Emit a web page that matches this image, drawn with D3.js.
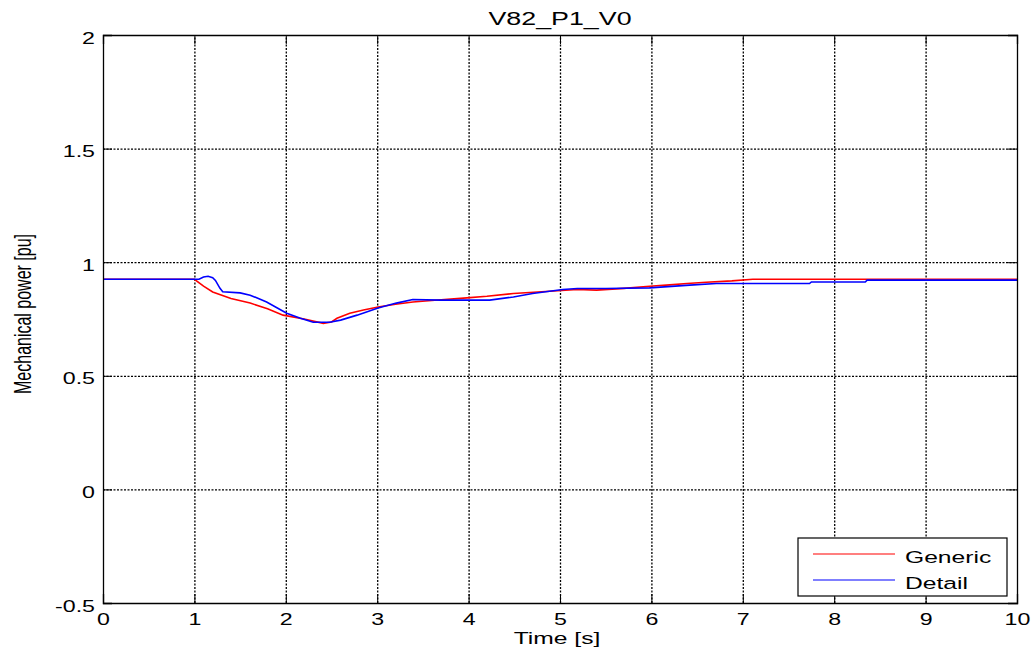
<!DOCTYPE html>
<html lang="en">
<head>
    <meta charset="UTF-8">
    <title>V82_P1_V0</title>
    <script src="https://d3js.org/d3.v7.min.js"></script>
    <style>
        body {
            margin: 0;
            padding: 0;
            background-color: #ffffff;
        }

        svg text {
            font-family: 'Liberation Sans', Arial, sans-serif;
            fill: #000;
        }
    </style>
</head>
<body>
    <div id="chart"></div>

    <script type="text/javascript">
        // Generic model
        var genericTime = [0, 1, 1.1, 1.2, 1.4, 1.61, 1.8, 1.97, 2.2, 2.41, 2.5, 2.56, 2.7, 2.85, 3.01, 3.2, 3.39, 3.7, 3.98, 4.2, 4.49, 4.8, 5.19, 5.4, 5.7, 5.98, 6.2, 6.39, 6.6, 6.88, 7.11, 8, 9, 10];
        var genericPower = [0.925, 0.925, 0.895, 0.869, 0.84, 0.82, 0.795, 0.767, 0.75, 0.731, 0.737, 0.753, 0.775, 0.79, 0.803, 0.815, 0.825, 0.835, 0.843, 0.85, 0.862, 0.87, 0.88, 0.877, 0.885, 0.894, 0.9, 0.906, 0.912, 0.918, 0.925, 0.925, 0.925, 0.925];

        // Detail model
        var detailTime = [0, 1, 1.05, 1.1, 1.15, 1.2, 1.23, 1.28, 1.31, 1.5, 1.61, 1.79, 2.01, 2.16, 2.3, 2.48, 2.6, 2.78, 3.01, 3.21, 3.39, 3.69, 4.23, 4.49, 4.7, 5.03, 5.19, 5.5, 5.98, 6.42, 6.71, 7.73, 7.75, 8.34, 8.36, 10];
        var detailPower = [0.925, 0.925, 0.925, 0.935, 0.938, 0.932, 0.92, 0.885, 0.87, 0.865, 0.855, 0.825, 0.775, 0.753, 0.736, 0.736, 0.745, 0.767, 0.798, 0.82, 0.836, 0.833, 0.833, 0.847, 0.862, 0.88, 0.884, 0.884, 0.887, 0.899, 0.906, 0.906, 0.913, 0.913, 0.921, 0.921];

        var xTicks = [0, 1, 2, 3, 4, 5, 6, 7, 8, 9, 10];
        var yTicks = [-0.5, 0, 0.5, 1, 1.5, 2];
        var yTickLabels = ["-0.5", "0", "0.5", "1", "1.5", "2"];

        var seriesNames = ["Generic", "Detail"];
        var seriesColors = ["#ff0000", "#0000ff"];

        var W = 1034, H = 658;
        var margin = { top: 35, right: 17, bottom: 55, left: 103 };
        var width = W - margin.left - margin.right;
        var height = H - margin.top - margin.bottom;
        var stretch = 1.45; // the figure is wider than its fonts

        var svg = d3.select("#chart")
            .append("svg")
            .attr("width", W)
            .attr("height", H);

        var g = svg.append("g")
            .attr("transform", "translate(" + margin.left + "," + margin.top + ")");

        var x = d3.scaleLinear().domain([0, 10]).range([0, width]);
        var y = d3.scaleLinear().domain([-0.5, 2]).range([height, 0]);

        // grid
        g.append("g")
            .attr("class", "grid")
            .attr("transform", "translate(0," + height + ")")
            .call(d3.axisBottom(x).tickValues(xTicks.slice(1, -1)).tickSize(-height).tickFormat(""))
            .call(function (s) { s.select(".domain").remove(); });

        g.append("g")
            .attr("class", "grid")
            .call(d3.axisLeft(y).tickValues(yTicks.slice(1, -1)).tickSize(-width).tickFormat(""))
            .call(function (s) { s.select(".domain").remove(); });

        g.selectAll(".grid line")
            .attr("stroke", "#000")
            .attr("stroke-width", 1.3)
            .attr("stroke-dasharray", "2,1.5");

        // lines
        var line = d3.line()
            .x(function (d) { return x(d[0]); })
            .y(function (d) { return y(d[1]); });

        var genericData = d3.zip(genericTime, genericPower);
        var detailData = d3.zip(detailTime, detailPower);

        g.append("path")
            .datum(genericData)
            .attr("fill", "none")
            .attr("stroke", seriesColors[0])
            .attr("stroke-width", 1.6)
            .attr("d", line);

        g.append("path")
            .datum(detailData)
            .attr("fill", "none")
            .attr("stroke", seriesColors[1])
            .attr("stroke-width", 1.6)
            .attr("d", line);

        // axes with inward ticks
        var xAxis = g.append("g")
            .attr("transform", "translate(0," + height + ")")
            .call(d3.axisBottom(x).tickValues(xTicks).tickSize(-9).tickFormat(function (d) { return String(d); }));

        xAxis.selectAll("text")
            .attr("y", 22)
            .attr("dy", null)
            .attr("transform", "scale(" + stretch + ",1)")
            .style("font-size", "16px");

        var yAxis = g.append("g")
            .call(d3.axisLeft(y).tickValues(yTicks).tickSize(-9).tickFormat(function (d, i) { return yTickLabels[i]; }));

        yAxis.selectAll("text")
            .attr("x", -8 / stretch)
            .attr("y", 8)
            .attr("dy", null)
            .attr("transform", "scale(" + stretch + ",1)")
            .style("font-size", "16px");

        g.append("g")
            .call(d3.axisTop(x).tickValues(xTicks).tickSize(-9).tickFormat(""));

        g.append("g")
            .attr("transform", "translate(" + width + ",0)")
            .call(d3.axisRight(y).tickValues(yTicks).tickSize(-9).tickFormat(""));

        g.selectAll(".domain").attr("stroke", "#000").attr("stroke-width", 1.3);
        g.selectAll(".tick line").filter(function () { return !this.closest(".grid"); })
            .attr("stroke", "#000");

        // title and labels
        svg.append("text")
            .attr("transform", "translate(" + (margin.left + width / 2) + ",25) scale(" + stretch + ",1)")
            .attr("text-anchor", "middle")
            .style("font-size", "18.5px")
            .text("V82_P1_V0");

        svg.append("text")
            .attr("transform", "translate(" + (margin.left + width / 2 - 3) + ",644) scale(" + stretch + ",1)")
            .attr("text-anchor", "middle")
            .style("font-size", "17px")
            .text("Time [s]");

        svg.append("text")
            .attr("transform", "translate(31," + (margin.top + height / 2 - 5) + ") scale(" + stretch + ",1) rotate(-90)")
            .attr("text-anchor", "middle")
            .style("font-size", "16px")
            .text("Mechanical power [pu]");

        // legend
        var legend = svg.append("g").attr("transform", "translate(798,538)");

        legend.append("rect")
            .attr("width", 209)
            .attr("height", 58)
            .attr("fill", "#fff")
            .attr("stroke", "#000")
            .attr("stroke-width", 1.2);

        seriesNames.forEach(function (name, i) {
            var ly = 16 + i * 26;
            legend.append("line")
                .attr("x1", 15).attr("x2", 97)
                .attr("y1", ly).attr("y2", ly)
                .attr("stroke", seriesColors[i])
                .attr("stroke-width", 1.2);
            legend.append("text")
                .attr("transform", "translate(107," + (ly + 9) + ") scale(" + stretch + ",1)")
                .style("font-size", "17px")
                .text(name);
        });
    </script>
</body>
</html>
